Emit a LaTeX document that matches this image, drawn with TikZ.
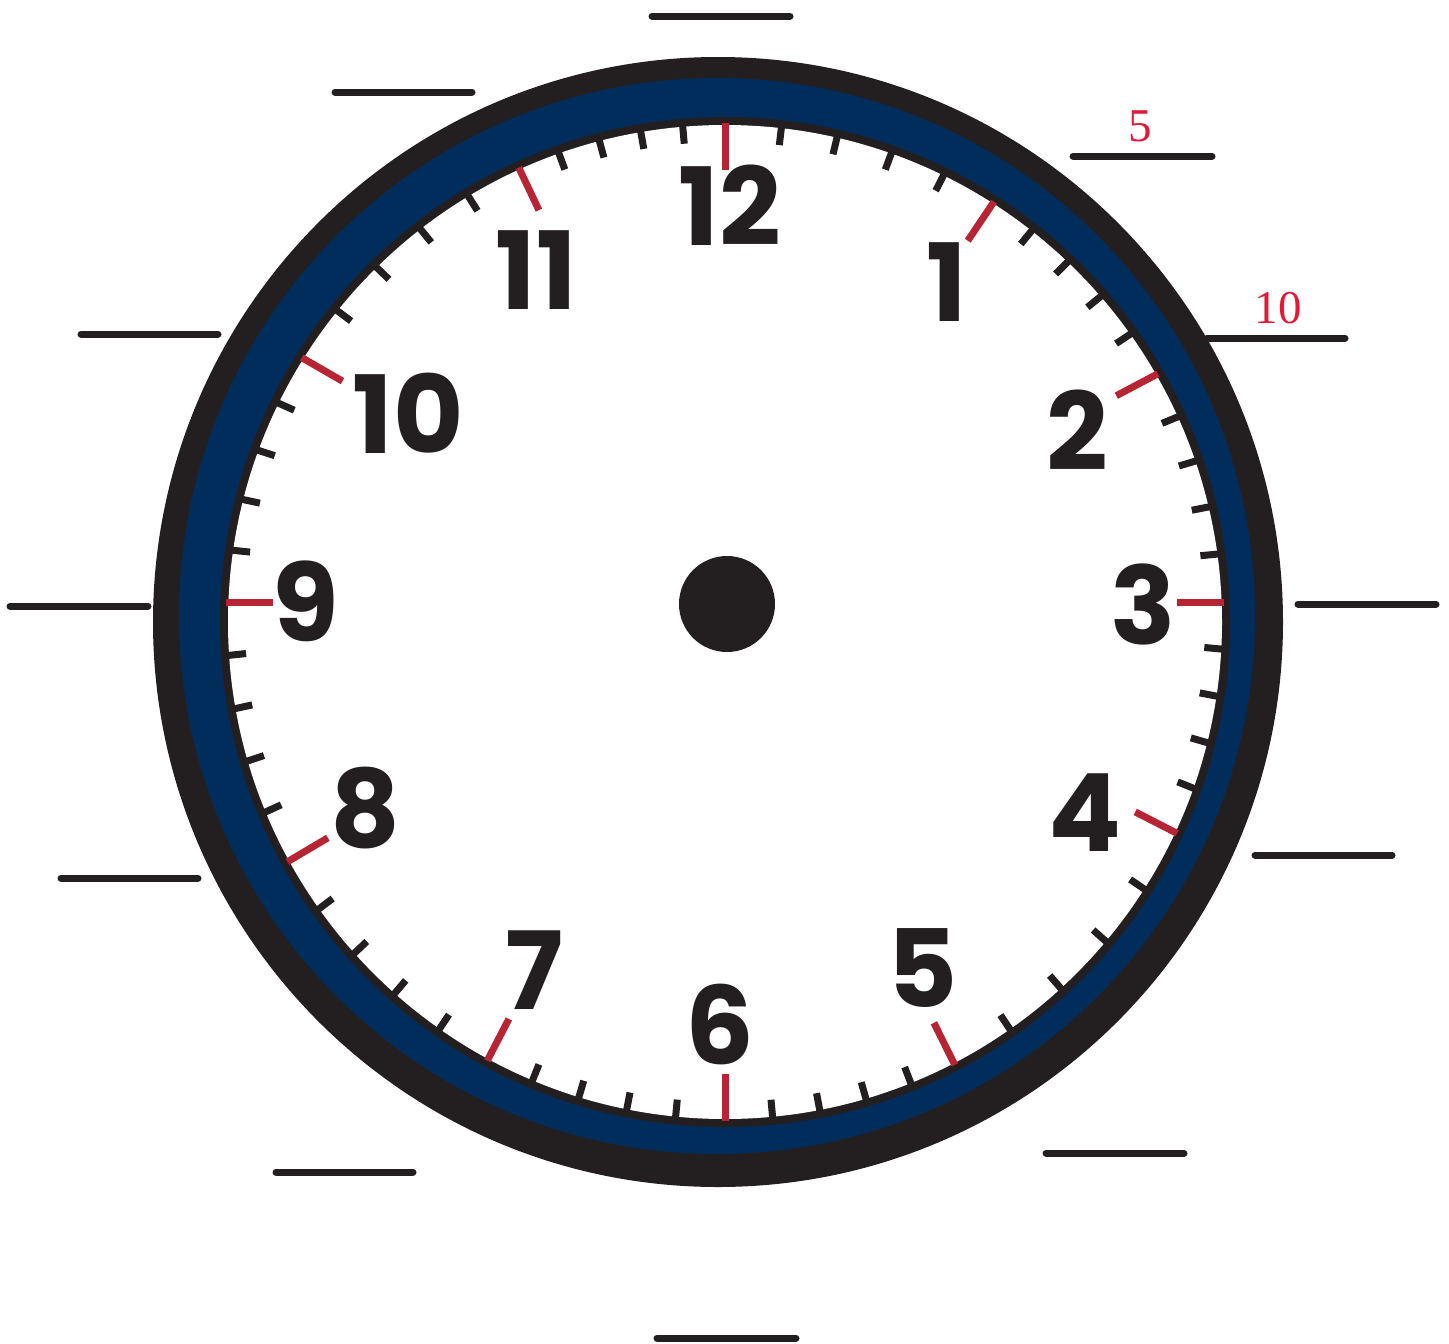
\documentclass[tikz,border=0pt]{standalone}
\usepackage{fontspec}
\usetikzlibrary{calc}
\newfontfamily\clockfont{Poppins}
\newfontfamily\labfont{Liberation Serif}
\definecolor{inkblack}{RGB}{35,31,32}
\definecolor{ringblue}{RGB}{0,45,92}
\definecolor{tickred}{RGB}{183,36,52}
\definecolor{labred}{RGB}{226,26,56}
\tikzset{
  numstyle/.style={inner sep=0pt, font=\clockfont\bfseries\fontsize{108}{108}\selectfont, text=inkblack},
  labstyle/.style={inner sep=0pt, font=\labfont\fontsize{47}{47}\selectfont, text=labred},
  blank/.style={draw=inkblack, line width=7pt, line cap=round},
  minortick/.style={draw=inkblack, line width=7pt},
  majortick/.style={draw=tickred, line width=7pt}
}
\def\majang{{0,33.9,62.2,90,117.1,153.6,180,207.4,239.3,270,300,334.6,360}}
\begin{document}
\begin{tikzpicture}[x=1pt,y=-1pt]
\useasboundingbox (0,0) rectangle (1449,1344);
% rings
\fill[inkblack] (718,622) circle[radius=565];
\fill[ringblue] (717,616) circle[radius=538];
\fill[inkblack] (725,622) circle[radius=505];
\fill[white] (725,622) circle[radius=497];
\coordinate (C) at (725,622);
\coordinate (P) at (725,602);
% ticks
\foreach \i in {0,...,59}{
  \pgfmathtruncatemacro{\h}{floor(\i/5)}
  \pgfmathtruncatemacro{\m}{mod(\i,5)}
  \pgfmathtruncatemacro{\hh}{\h+1}
  \pgfmathsetmacro{\aa}{\majang[\h]}
  \pgfmathsetmacro{\ab}{\majang[\hh]}
  \pgfmathsetmacro{\th}{\aa+(\ab-\aa)*\m/5-90}
  \pgfmathsetmacro{\tout}{10*(2*sin(\th)+sqrt(4*sin(\th)^2-4+2490.01))}
  \ifnum\m=0
    \pgfmathsetmacro{\tin}{\tout-47}
    \draw[majortick] ($(P)+(\th:\tout)$) -- ($(P)+(\th:\tin)$);
  \else
    \pgfmathsetmacro{\tin}{\tout-19}
    \draw[minortick] ($(P)+(\th:\tout)$) -- ($(P)+(\th:\tin)$);
  \fi
}
% center dot
\fill[inkblack] (727,604) circle[radius=48];
% numbers
\node[numstyle] (n12) at (730,205) {12};
\node[numstyle] (n1) at (947,282) {1};
\node[numstyle] (n2) at (1077,430) {2};
\node[numstyle] (n3) at (1143,604) {3};
\node[numstyle] (n4) at (1085,813) {4};
\node[numstyle] (n5) at (923,968) {5};
\node[numstyle] (n6) at (720,1024) {6};
\node[numstyle] (n7) at (534,970) {7};
\node[numstyle] (n8) at (365,808) {8};
\node[numstyle] (n9) at (306,601) {9};
\node[numstyle] (n10) at (408,413) {10};
\node[numstyle] (n11) at (536,270) {11};
% blank lines
\draw[blank] (652,16) -- (790,16);
\draw[blank] (1073,156) -- (1212,156);
\draw[blank] (1207,338) -- (1345,338);
\draw[blank] (1298,604) -- (1436,604);
\draw[blank] (1255,855) -- (1392,855);
\draw[blank] (1046,1153) -- (1184,1153);
\draw[blank] (657,1338) -- (796,1338);
\draw[blank] (276,1172) -- (413,1172);
\draw[blank] (61,878) -- (198,878);
\draw[blank] (10,606) -- (148,606);
\draw[blank] (81,334) -- (218,334);
\draw[blank] (335,92) -- (472,92);
% red minute labels
\node[labstyle] (m5) at (1140,126) {5};
\node[labstyle] (m10) at (1278,308) {10};
\end{tikzpicture}
\end{document}
